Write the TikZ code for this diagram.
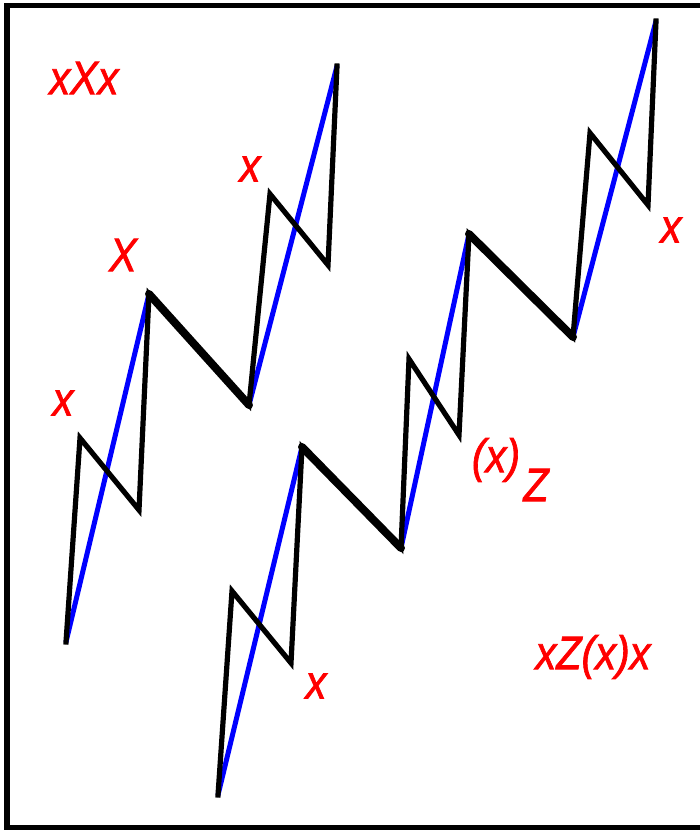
\documentclass[tikz,border=0pt]{standalone}
\usepackage{fontspec}
\setmainfont{Liberation Sans}
\newfontfamily\lblfont[ItalicFeatures={FakeBold=1.6}]{Liberation Sans}
\tikzset{
  thinline/.style={black, line width=5.2pt, line join=miter, line cap=rect},
  thickline/.style={black, line width=8pt, line cap=round},
  blueline/.style={blue, line width=5pt},
  lbl/.style={red, inner sep=0pt, font=\lblfont\fontsize{47}{50}\selectfont\itshape},
  frameline/.style={black, line width=5.5pt}
}
\newcommand{\nrw}[1]{\scalebox{0.88}[1]{#1}}
\begin{document}
\begin{tikzpicture}[x=1pt,y=-1pt]
\useasboundingbox (0,0) rectangle (700,830);
\fill[white] (0,0) rectangle (700,830);
% frame (right side cropped)
\coordinate (f1) at (705,5.3);
\coordinate (f2) at (7,5.3);
\coordinate (f3) at (7,827.5);
\coordinate (f4) at (705,827.5);
\draw[frameline] (f1) -- (f2) -- (f3) -- (f4);
% first figure
\coordinate (a1) at (66,642);
\coordinate (a2) at (80,438);
\coordinate (a3) at (139,510);
\coordinate (a4) at (149,294);
\coordinate (a5) at (249,405);
\coordinate (a6) at (270,194);
\coordinate (a7) at (328,265);
\coordinate (a8) at (337,66);
% second figure
\coordinate (b1) at (218,795);
\coordinate (b2) at (232,591);
\coordinate (b3) at (291,663);
\coordinate (b4) at (302,447);
\coordinate (b5) at (401,548);
\coordinate (b6) at (409,359);
\coordinate (b7) at (459,435);
\coordinate (b8) at (469,234);
\coordinate (b9) at (573,337);
\coordinate (b10) at (590,133);
\coordinate (b11) at (648,205);
\coordinate (b12) at (656,21);
% blue diagonals
\draw[blueline] (a1) -- (a4);
\draw[blueline] (a5) -- (a8);
\draw[blueline] (b1) -- (b4);
\draw[blueline] (b5) -- (b8);
\draw[blueline] (b9) -- (b12);
% black zigzags
\draw[thinline] (a1) -- (a2) -- (a3) -- (a4) -- (a5) -- (a6) -- (a7) -- (a8);
\draw[thickline] (a4) -- (a5);
\draw[thinline] (b1) -- (b2) -- (b3) -- (b4) -- (b5) -- (b6) -- (b7) -- (b8) -- (b9) -- (b10) -- (b11) -- (b12);
\draw[thickline] (b4) -- (b5);
\draw[thickline] (b8) -- (b9);
% labels
\node[lbl] (t1) at (84,78) {\nrw{xXx}};
\node[lbl] (t2) at (123,255) {\nrw{X}};
\node[lbl] (t3) at (250,169) {\nrw{x}};
\node[lbl] (t4) at (63,403) {\nrw{x}};
\node[lbl] (t5) at (671,230) {\nrw{x}};
\node[lbl] (t6) at (316,686) {\nrw{x}};
\node[lbl] (t7) at (496,460) {\nrw{(x)}};
\node[lbl] (t8) at (536,485) {\nrw{Z}};
\node[lbl] (t9) at (593,657) {\nrw{xZ(x)x}};
\end{tikzpicture}
\end{document}
